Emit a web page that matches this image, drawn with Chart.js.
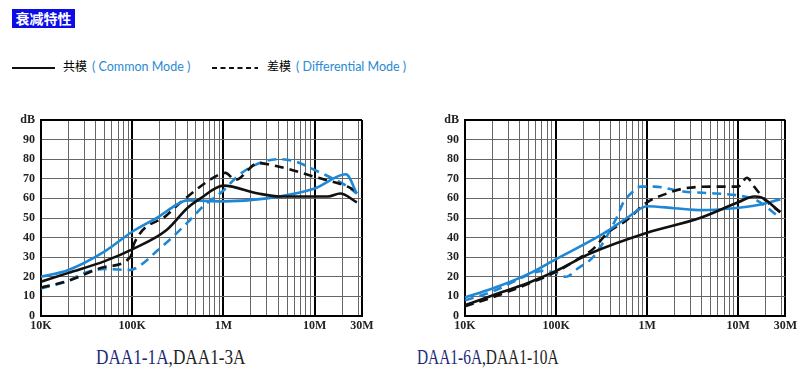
<!DOCTYPE html>
<html>
<head>
<meta charset="utf-8">
<script src="https://cdn.jsdelivr.net/npm/chart.js@4/dist/chart.umd.min.js"></script>
<style>
  body { margin: 0; width: 800px; height: 389px; background: #fff; position: relative; overflow: hidden; }
  .title { position: absolute; left: 12px; top: 9px; width: 63px; height: 19px; background: #0c0ce8; color: #fff;
           font: bold 14px "Noto Sans CJK SC"; line-height: 19px; text-align: center; }
  .leg { position: absolute; top: 57px; font: 12px "Noto Sans CJK SC"; line-height: 18px; white-space: nowrap; }
  .leg .en { font-family: Lato, sans-serif; color: #2a8ad2; font-size: 12.5px; margin-left: 5px; }
  .cap { position: absolute; top: 346px; font: 20px "Liberation Serif", serif; color: #222; white-space: nowrap;
         transform: scaleX(0.86); transform-origin: 0 0; }
  .cap .b { color: #1c2a78; }
  canvas { position: absolute; }
</style>
</head>
<body>
<div class="title">衰减特性</div>

<svg style="position:absolute;left:12px;top:66px" width="250" height="4">
  <line x1="0" y1="2" x2="43" y2="2" stroke="#111" stroke-width="2"/>
  <line x1="200" y1="2" x2="246" y2="2" stroke="#111" stroke-width="2" stroke-dasharray="5,3.5"/>
</svg>
<div class="leg" style="left:63px">共模<span class="en">( Common Mode )</span></div>
<div class="leg" style="left:267px">差模<span class="en">( Differential Mode )</span></div>

<canvas id="left" width="390" height="235" style="left:0;top:105px"></canvas>
<canvas id="right" width="376" height="235" style="left:424px;top:105px"></canvas>

<div class="cap" style="left:96px"><span class="b">DAA1-1A</span>,DAA1-3A</div>
<div class="cap" style="left:417px;transform:scaleX(0.77)"><span class="b">DAA1-6A</span>,DAA1-10A</div>

<script>
// frequency (Hz) / attenuation (dB) pairs
// DAA1-1A, DAA1-3A
const left_cm_black = [[1e4,17.5],[2e4,22],[5e4,28],[1e5,34],[2.4e5,44],[4e5,55],[5.6e5,60],[1e6,66.5],[2.4e6,62.5],[4.2e6,61],[1.4e7,61],[1.9e7,62.5],[2.9e7,58]];
const left_cm_blue  = [[1e4,20],[2e4,23.5],[5e4,33],[1e5,43],[2e5,51],[3e5,56.5],[4e5,59],[1e6,58.5],[3e6,60],[1e7,65],[2.2e7,72.3],[2.9e7,62.5]];
const left_dm_black = [[1e4,14.5],[2e4,18],[5e4,25],[9.5e4,30],[1.05e5,37],[2.4e5,51.5],[3.6e5,59],[9.3e5,72.5],[1.05e6,73],[1.35e6,69.5],[2.4e6,78],[4.2e6,76],[1e7,71],[2.3e7,66],[2.9e7,63.5]];
const left_dm_blue  = [[1e4,14],[2e4,18],[3e4,22],[5e4,24],[9.5e4,23.5],[1.2e5,25.5],[1.9e5,33.5],[2.8e5,40.5],[4.3e5,49],[6e5,56],[1e6,64],[1.4e6,71],[2.2e6,77],[4e6,80],[6e6,79],[1e7,74.5],[2.3e7,66],[2.9e7,62.5]];

// DAA1-6A, DAA1-10A
const right_cm_black = [[1e4,5.5],[2e4,10.5],[5e4,17],[1e5,23],[2.4e5,32],[1e6,42.5],[3.8e6,50],[1e7,58],[1.5e7,61],[1.8e7,60.5],[2.9e7,53]];
const right_cm_blue  = [[1e4,9.5],[2e4,14],[5e4,21.5],[1e5,29],[3.3e5,42],[6e5,50],[1e6,56],[2e6,55],[4e6,54],[9e6,55],[1.6e7,56.5],[2.9e7,59.5]];
const right_dm_black = [[1e4,5],[2e4,9.5],[5e4,16.5],[1e5,22.5],[1.8e5,29.5],[2.6e5,34.5],[3.6e5,42],[6e5,49],[1e6,58],[1.65e6,62.5],[2.5e6,65],[5.8e6,66],[1e7,66],[1.25e7,70.5],[1.5e7,66],[2e7,59],[2.9e7,53]];
const right_dm_blue  = [[1e4,8],[2e4,12.5],[5e4,21],[7e4,23],[1e5,22],[1.3e5,20],[1.7e5,24],[2.6e5,30.5],[4.5e5,49],[5.5e5,58],[7e5,63.5],[8.5e5,66],[1.2e6,66],[2.5e6,63.5],[5.8e6,62.5],[1e7,61.5],[1.6e7,59],[2.9e7,50]];

const freqGrid = [1e4,2e4,3e4,4e4,5e4,6e4,7e4,8e4,9e4,1e5,2e5,3e5,4e5,5e5,6e5,7e5,8e5,9e5,
                  1e6,2e6,3e6,4e6,5e6,6e6,7e6,8e6,9e6,1e7,2e7,3e7,3.3e7];
const freqLabels = {1e4: '10K', 1e5: '100K', 1e6: '1M', 1e7: '10M', 3.3e7: '30M'};
const dbTicks = [0,10,20,30,40,50,60,70,80,90,100];

const BLACK = '#111', BLUE = '#1e88d6';

function line(data, color, dashed) {
  return {
    data: data.map(p => ({x: p[0], y: p[1]})),
    borderColor: color,
    borderWidth: 2.6,
    borderDash: dashed ? [9, 6] : [],
    pointRadius: 0,
    cubicInterpolationMode: 'monotone',
    fill: false
  }
}

const tickFont = {family: 'Liberation Serif', weight: 'bold', size: 12};
const major = v => v === 1e4 || v === 1e5 || v === 1e6 || v === 1e7 || v === 3.3e7;

function makeChart(id, series, padRight) {
  new Chart(document.getElementById(id), {
    type: 'line',
    data: {
      datasets: [
        line(series[0], BLACK, false),
        line(series[1], BLUE, false),
        line(series[2], BLACK, true),
        line(series[3], BLUE, true)
      ]
    },
    options: {
      responsive: false,
      animation: false,
      layout: {padding: {top: 15, right: padRight, left: 0, bottom: 0}},
      plugins: {legend: {display: false}, tooltip: {enabled: false}},
      scales: {
        x: {
          type: 'logarithmic',
          min: 1e4, max: 3.3e7,
          afterBuildTicks: axis => { axis.ticks = freqGrid.map(v => ({value: v})) },
          afterFit: axis => { axis.height = 24 },
          ticks: {
            autoSkip: false, maxRotation: 0, padding: 3, color: '#222', font: tickFont,
            callback: (v, i) => freqLabels[freqGrid[i]] || ''
          },
          grid: {
            drawTicks: false,
            color: ctx => major(ctx.tick.value) ? '#000' : '#666',
            lineWidth: ctx => major(ctx.tick.value) ? 2 : 1
          },
          border: {display: true, color: '#000', width: 2}
        },
        y: {
          min: 0, max: 100,
          afterBuildTicks: axis => { axis.ticks = dbTicks.map(v => ({value: v})) },
          afterFit: axis => { axis.width = 41 },
          ticks: {
            padding: 6, color: '#222', font: tickFont,
            callback: v => v === 100 ? 'dB' : v
          },
          grid: {
            drawTicks: false,
            color: ctx => (ctx.tick.value === 0 || ctx.tick.value === 100) ? '#000' : '#666',
            lineWidth: ctx => (ctx.tick.value === 0 || ctx.tick.value === 100) ? 2 : 1
          },
          border: {display: true, color: '#000', width: 2}
        }
      }
    }
  })
}

makeChart('left', [left_cm_black, left_cm_blue, left_dm_black, left_dm_blue], 28);
makeChart('right', [right_cm_black, right_cm_blue, right_dm_black, right_dm_blue], 14);
</script>
</body>
</html>
